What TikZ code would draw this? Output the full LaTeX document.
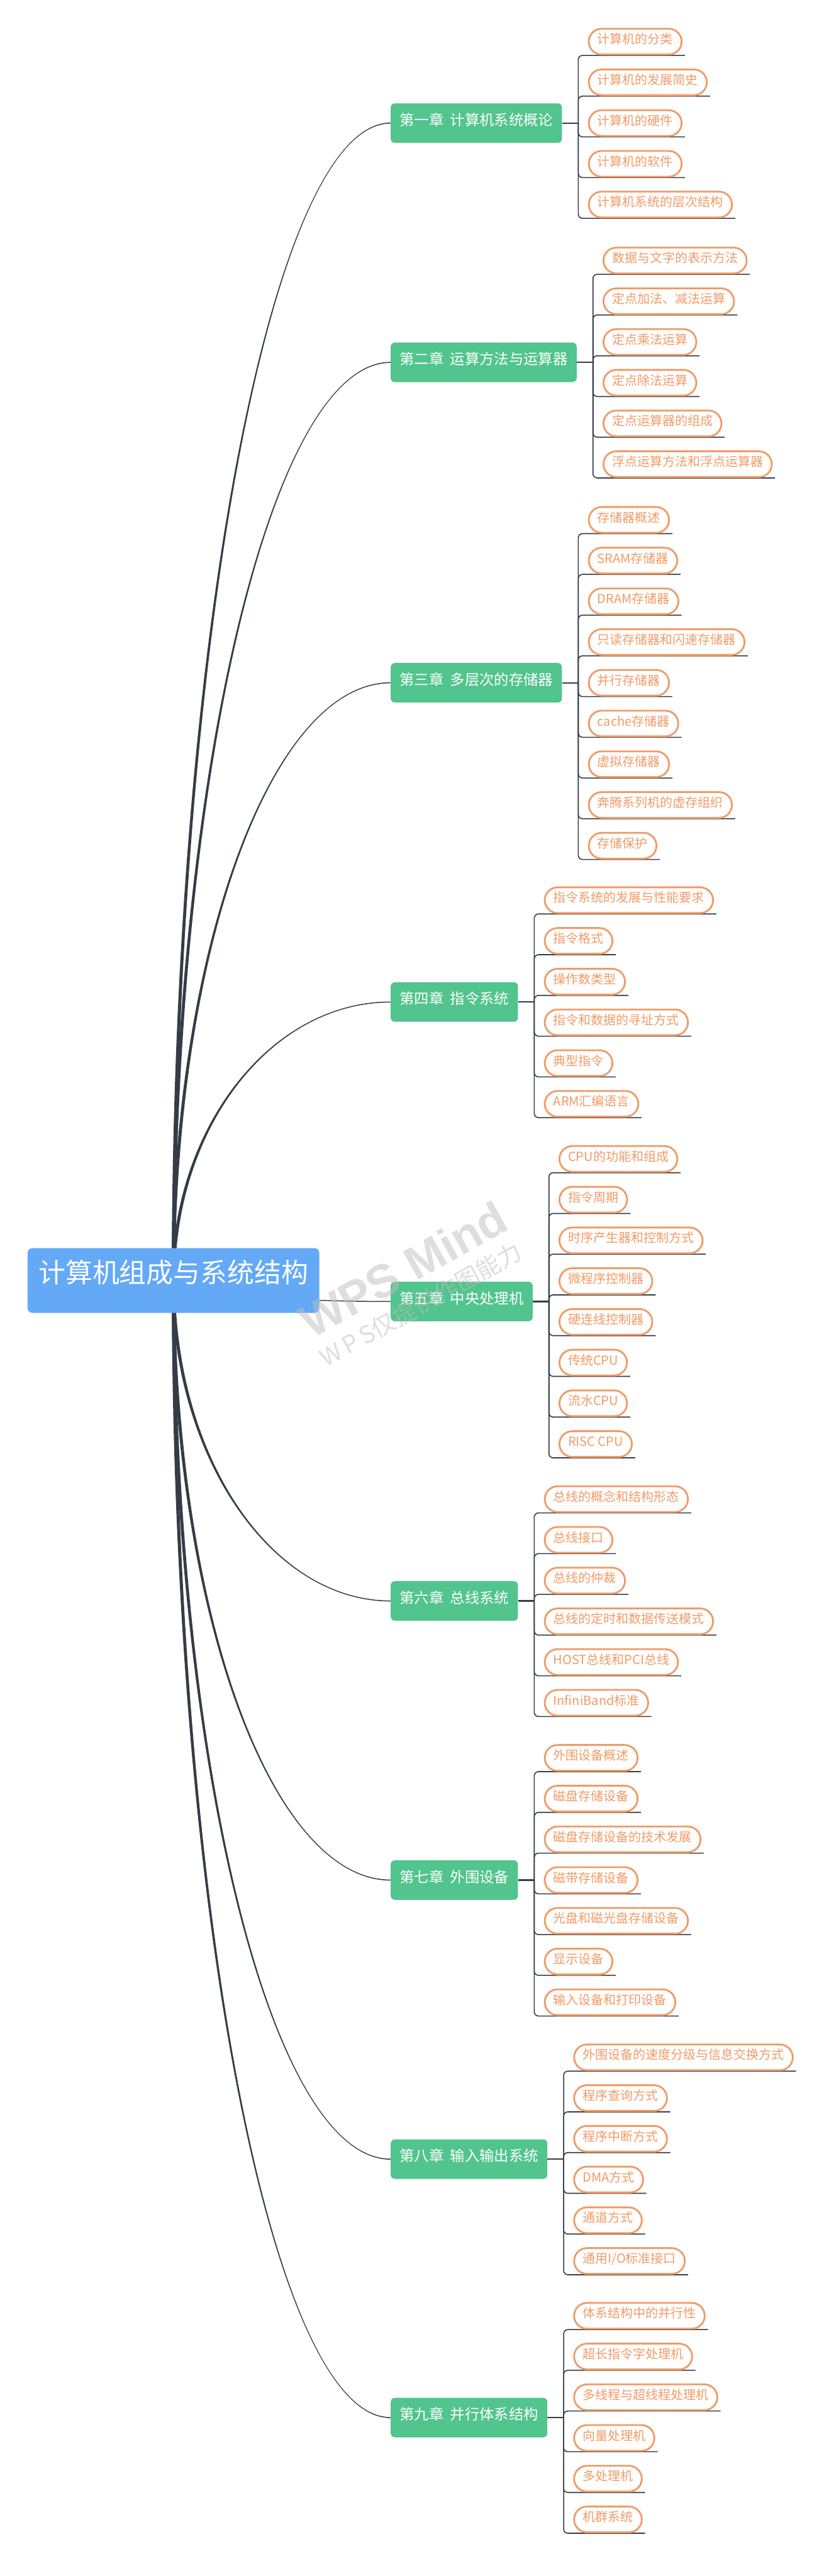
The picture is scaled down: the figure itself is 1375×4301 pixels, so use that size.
\documentclass[tikz,border=0pt]{standalone}
\usepackage{fontspec}
\newfontfamily\cjk{Noto Sans CJK SC}
\newfontfamily\wmfont{Liberation Sans}
\usetikzlibrary{calc}
\definecolor{rootblue}{HTML}{63A9F6}
\definecolor{chgreen}{HTML}{52C48D}
\definecolor{leaforange}{HTML}{F19B66}
\definecolor{linedark}{HTML}{343C45}
\definecolor{wmgray}{HTML}{BEBEBE}
\pgfdeclarelayer{bg}
\pgfdeclarelayer{top}
\pgfsetlayers{bg,main,top}
\tikzset{
 rootbox/.style={fill=rootblue, rounded corners=8pt, minimum width=487pt, minimum height=108pt, inner sep=0pt, text=white, font=\cjk\fontsize{45}{45}\selectfont, text height=0.85em, text depth=0.09em},
 chapbox/.style={fill=chgreen, rounded corners=7pt, minimum height=66pt, inner xsep=15pt, inner ysep=0pt, text=white, font=\cjk\fontsize{24.5}{24.5}\selectfont, text height=0.85em, text depth=0.09em},
 leafbox/.style={draw=leaforange, line width=3pt, fill=white, rounded corners=21.5pt, minimum height=43pt, inner xsep=14.5pt, inner ysep=0pt, text=leaforange, font=\cjk\fontsize{21}{21}\selectfont, text height=0.85em, text depth=0.09em},
 stubline/.style={draw=linedark, line width=2.4pt},
 bracketline/.style={draw=linedark, line width=1.7pt, rounded corners=7pt},
 wm/.style={text=wmgray, opacity=0.5, rotate=29, inner sep=0pt}
}
\newcommand\mmchap[5]{%
 \node[chapbox, anchor=west] (#1) at (652,#2) {#3};
 \coordinate (#1b) at ($(#1.east)+(27,0)$);
 \begin{pgfonlayer}{bg}\draw[stubline] (#1.east) -- (#1b);\end{pgfonlayer}
 \foreach \t [count=\i] in {#5} {
   \node[leafbox, anchor=west] (#1-\i) at ($(#1b)+(16,{(\i-(#4+1)/2)*68})$) {\t};
   \begin{pgfonlayer}{bg}\draw[bracketline] (#1b) |- ($(#1-\i.south east)+(4,0)$);\end{pgfonlayer}
 }
}
\newcommand\mmbranch[2]{%
 \begin{pgfonlayer}{bg}
 \fill[linedark] ($(root.center)+(-2.8,0)$)
  .. controls ($(root.center)!0.55!(root.center|-#1.west)+(-2.8,0)$) and ($(#1.west)!0.55!(root.center|-#1.west)+(0,{0.8*(#2)})$)
  .. ($(#1.west)+(0,{0.8*(#2)})$) -- ($(#1.west)+(0,{-0.8*(#2)})$)
  .. controls ($(#1.west)!0.55!(root.center|-#1.west)+(0,{-0.8*(#2)})$) and ($(root.center)!0.55!(root.center|-#1.west)+(2.8,0)$)
  .. ($(root.center)+(2.8,0)$) -- cycle;
 \end{pgfonlayer}}
\begin{document}
\begin{tikzpicture}[x=1pt,y=-1pt]
\useasboundingbox (0,0) rectangle (1375,4301);
\begin{pgfonlayer}{bg}
\fill[white] (0,0) rectangle (1375,4301);
\end{pgfonlayer}
\node[rootbox] (root) at (289.5,2138) {计算机组成与系统结构};
\mmchap{ch1}{205.5}{第一章\hspace{11pt}计算机系统概论}{5}{计算机的分类,计算机的发展简史,计算机的硬件,计算机的软件,计算机系统的层次结构}
\mmchap{ch2}{605}{第二章\hspace{11pt}运算方法与运算器}{6}{数据与文字的表示方法,定点加法、减法运算,定点乘法运算,定点除法运算,定点运算器的组成,浮点运算方法和浮点运算器}
\mmchap{ch3}{1140}{第三章\hspace{11pt}多层次的存储器}{9}{存储器概述,SRAM存储器,DRAM存储器,只读存储器和闪速存储器,并行存储器,cache存储器,虚拟存储器,奔腾系列机的虚存组织,存储保护}
\mmchap{ch4}{1673}{第四章\hspace{11pt}指令系统}{6}{指令系统的发展与性能要求,指令格式,操作数类型,指令和数据的寻址方式,典型指令,ARM汇编语言}
\mmchap{ch5}{2173}{第五章\hspace{11pt}中央处理机}{8}{CPU的功能和组成,指令周期,时序产生器和控制方式,微程序控制器,硬连线控制器,传统CPU,流水CPU,RISC CPU}
\mmchap{ch6}{2673}{第六章\hspace{11pt}总线系统}{6}{总线的概念和结构形态,总线接口,总线的仲裁,总线的定时和数据传送模式,HOST总线和PCI总线,InfiniBand标准}
\mmchap{ch7}{3139}{第七章\hspace{11pt}外围设备}{7}{外围设备概述,磁盘存储设备,磁盘存储设备的技术发展,磁带存储设备,光盘和磁光盘存储设备,显示设备,输入设备和打印设备}
\mmchap{ch8}{3605}{第八章\hspace{11pt}输入输出系统}{6}{外围设备的速度分级与信息交换方式,程序查询方式,程序中断方式,DMA方式,通道方式,通用I/O标准接口}
\mmchap{ch9}{4036.5}{第九章\hspace{11pt}并行体系结构}{6}{体系结构中的并行性,超长指令字处理机,多线程与超线程处理机,向量处理机,多处理机,机群系统}
\mmbranch{ch1}{-1}
\mmbranch{ch2}{-1}
\mmbranch{ch3}{-1}
\mmbranch{ch4}{-1}
\mmbranch{ch5}{1}
\mmbranch{ch6}{1}
\mmbranch{ch7}{1}
\mmbranch{ch8}{1}
\mmbranch{ch9}{1}
\begin{pgfonlayer}{top}
\node[wm, font=\wmfont\bfseries\fontsize{78}{78}\selectfont] (wm1) at (673,2119) {WPS Mind};
\node[wm, font=\cjk\fontsize{40}{40}\selectfont] (wm2) at (702,2178) {W\hspace{7pt}P\hspace{7pt}S仅提供作图能力};
\end{pgfonlayer}
\end{tikzpicture}
\end{document}
